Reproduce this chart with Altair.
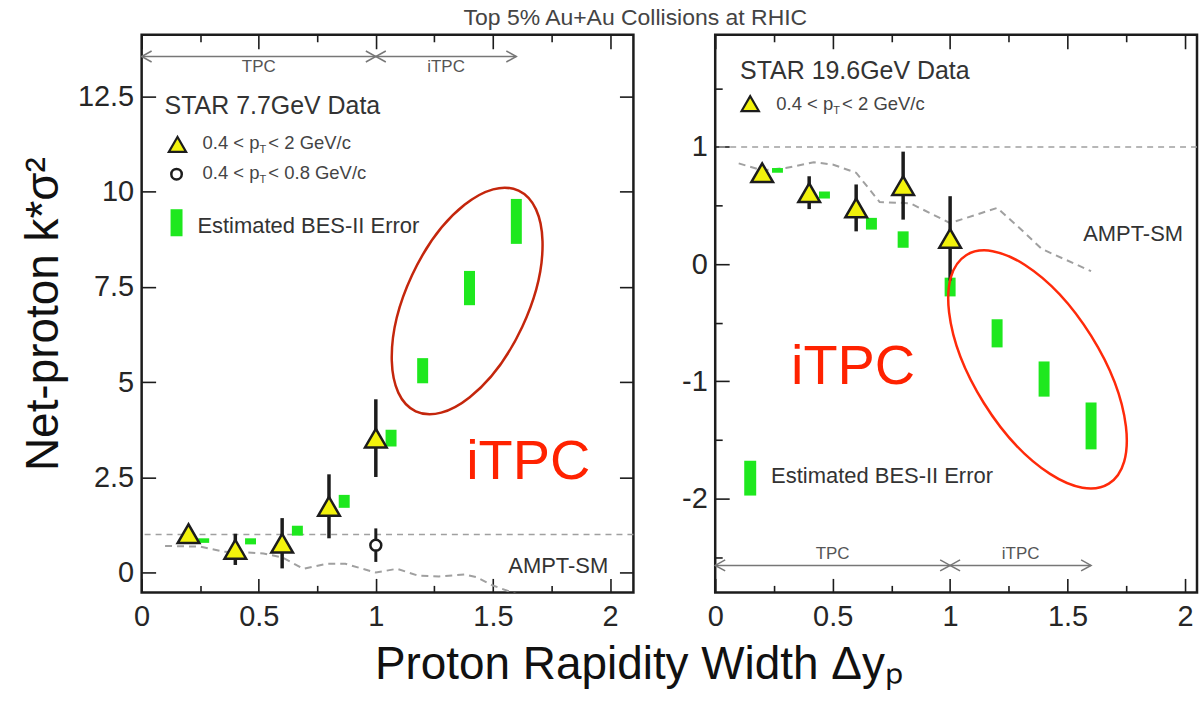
import altair as alt
import pandas as pd

FONT = "Liberation Sans"
INK = "#1c1c1c"
LABEL = "#262626"
DASH = "#a0a0a0"
GREEN = "#1ee81e"
YELLOW = "#f2f20c"
RED = "#ff2a0a"
DARKRED = "#c4260c"
NOTE = "#555555"

# ---------------- shared x ticks ----------------
x_major = [0, 0.5, 1, 1.5, 2]
x_minor = [0.25, 0.75, 1.25, 1.75]

# ---------------- 7.7 GeV panel ----------------
l_y_major = [0, 2.5, 5, 7.5, 10, 12.5]
l_tri_x = [0.2, 0.4, 0.6, 0.8, 1.0]
l_tri_y = [1.02, 0.61, 0.77, 1.74, 3.53]
l_tri_err = [0.12, 0.41, 0.66, 0.84, 1.02]
l_circ_x = [1.0]
l_circ_y = [0.72]
l_circ_err = [0.44]
l_bes_x = [0.265, 0.465, 0.665, 0.865, 1.065, 1.2, 1.4, 1.6]
l_bes_y = [0.84, 0.82, 1.1, 1.87, 3.53, 5.3, 7.47, 9.22]
l_bes_half = [0.06, 0.08, 0.13, 0.17, 0.22, 0.33, 0.45, 0.59]
l_ampt_x = [0.1, 0.25, 0.35, 0.45, 0.52, 0.6, 0.69, 0.79, 0.87, 1.0, 1.09, 1.18, 1.27, 1.38, 1.43, 1.5, 1.6]
l_ampt_y = [0.7, 0.68, 0.55, 0.53, 0.5, 0.4, 0.1, 0.23, 0.23, 0.0, 0.1, -0.08, -0.1, -0.05, -0.12, -0.34, -0.56]

# ---------------- 19.6 GeV panel ----------------
r_y_major = [-2, -1, 0, 1]
r_y_minor = [-2.5, -1.5, -0.5, 0.5, 1.5]
r_tri_x = [0.2, 0.4, 0.6, 0.8, 1.0]
r_tri_y = [0.78, 0.61, 0.48, 0.67, 0.22]
r_tri_err = [0.05, 0.14, 0.2, 0.29, 0.36]
r_bes_x = [0.265, 0.465, 0.665, 0.8, 1.0, 1.2, 1.4, 1.6]
r_bes_y = [0.8, 0.59, 0.345, 0.21, -0.195, -0.59, -0.98, -1.38]
r_bes_half = [0.02, 0.03, 0.05, 0.07, 0.08, 0.12, 0.15, 0.2]
r_ampt_x = [0.1, 0.2, 0.3, 0.42, 0.5, 0.6, 0.7, 0.83, 1.0, 1.2, 1.3, 1.39, 1.6]
r_ampt_y = [0.86, 0.8, 0.82, 0.87, 0.85, 0.78, 0.53, 0.52, 0.35, 0.48, 0.3, 0.13, -0.06]

# ---------------- annotation placements (data coordinates) ----------------
LEFT = dict(
    xdom=[0, 2.1], ydom=[-0.52, 14.12], width=493,
    y_major=l_y_major, y_minor=[],
    tri=(l_tri_x, l_tri_y, l_tri_err), circ=(l_circ_x, l_circ_y, l_circ_err),
    bes=(l_bes_x, l_bes_y, l_bes_half), ampt=(l_ampt_x, l_ampt_y),
    arrow_y=13.55, arrow_text_top=True,
    star=("STAR 7.7GeV Data", 0.098, 12.05),
    pt_rows=[(0.153, 11.24, 0.26, 11.11, "2", "tri"), (0.149, 10.46, 0.26, 10.33, "0.8", "circ")],
    leg_bar=(0.149, 8.83, 9.54), leg_bar_text=(0.238, 8.91),
    ampt_label=(1.779, 0.0),
    ellipse=(1.39, 7.13, 59536, 295, "M1,0A1,0.5,0,1,1,-1,0A1,0.5,0,1,1,1,0Z", DARKRED),
    itpc=(1.651, 2.46),
    right_axis=True, titles=True,
)
RIGHT = dict(
    xdom=[0, 2.051], ydom=[-2.8, 1.957], width=483,
    y_major=r_y_major, y_minor=r_y_minor,
    tri=(r_tri_x, r_tri_y, r_tri_err), circ=None,
    bes=(r_bes_x, r_bes_y, r_bes_half), ampt=(r_ampt_x, r_ampt_y),
    arrow_y=-2.57, arrow_text_top=False,
    star=("STAR 19.6GeV Data", 0.106, 1.583),
    pt_rows=[(0.149, 1.37, 0.26, 1.319, "2", "tri")],
    leg_bar=(0.149, -1.974, -1.677), leg_bar_text=(0.238, -1.864),
    ampt_label=(1.779, 0.196),
    ellipse=(1.372, -0.898, 72900, 58, "M1,0A1,0.47,0,1,1,-1,0A1,0.47,0,1,1,1,0Z", RED),
    itpc=(0.587, -1.02),
    right_axis=False, titles=False,
)

HEIGHT = 559


def axis(orient, values, size, labels=False, title=None, **kw):
    opts = dict(orient=orient, values=values, tickSize=size, offset=-size, domain=False,
                grid=False, labels=labels, tickColor=INK, tickWidth=1.6, title=title)
    if labels:
        opts.update(labelFont=FONT, labelFontSize=29, labelColor=LABEL,
                    labelExpr="'' + datum.value", labelFlush=False, labelOverlap=False)
    opts.update(kw)
    return alt.Axis(**opts)


def panel(P):
    xs = alt.Scale(domain=P["xdom"], nice=False, zero=False)
    ys = alt.Scale(domain=P["ydom"], nice=False, zero=False)

    def X(f, ax=None):
        return alt.X(f, type="quantitative", scale=xs, axis=ax)

    def Y(f, ax=None):
        return alt.Y(f, type="quantitative", scale=ys, axis=ax)

    tx, ty, te = P["tri"]
    tri = pd.DataFrame({"x": tx, "y": ty, "lo": [a - b for a, b in zip(ty, te)], "hi": [a + b for a, b in zip(ty, te)]})
    layers = []

    # axis carriers (invisible points)
    xt = "Proton Rapidity Width Δyₚ" if P["titles"] else None
    yt = "Net-proton k*σ²" if P["titles"] else None
    xmaj_kw = dict(labelPadding=10)
    ymaj_kw = dict(labelPadding=8)
    if P["titles"]:
        xmaj_kw.update(titleFont=FONT, titleFontSize=46, titleFontWeight="normal", titleColor="#111",
                       titleX=498, titlePadding=11)
        ymaj_kw.update(titleFont=FONT, titleFontSize=46, titleFontWeight="normal", titleColor="#111",
                       titlePadding=9.5)
    carriers = [
        (axis("bottom", x_major, 14, True, xt, **xmaj_kw), axis("left", P["y_major"], 14, True, yt, **ymaj_kw)),
        (axis("bottom", x_minor, 7), axis("left", P["y_minor"], 7) if P["y_minor"] else None),
        (axis("top", x_major, 14), axis("right", P["y_major"], 14) if P["right_axis"] else None),
        (axis("top", x_minor, 7), None),
    ]
    for xa, ya in carriers:
        layers.append(alt.Chart(tri).mark_point(opacity=0).encode(x=X("x", xa), y=Y("y", ya)))

    # reference line at 1
    layers.append(alt.Chart(pd.DataFrame({"y": [1.0]})).mark_rule(
        color=DASH, strokeWidth=1.6, strokeDash=[6, 5]).encode(y=Y("y")))

    # AMPT-SM dashed curve
    ax_, ay_ = P["ampt"]
    layers.append(alt.Chart(pd.DataFrame({"x": ax_, "y": ay_})).mark_line(
        color=DASH, strokeWidth=2, strokeDash=[7, 5], clip=True).encode(x=X("x"), y=Y("y")))

    # TPC / iTPC arrow
    ay = P["arrow_y"]
    layers.append(alt.Chart(pd.DataFrame({"x": [0.0], "x2": [1.6], "y": [ay]})).mark_rule(
        color="#777", strokeWidth=1.5).encode(x=X("x"), x2="x2", y=Y("y")))
    layers.append(alt.Chart(pd.DataFrame({"x": [0.0, 1.0], "y": [ay, ay]})).mark_point(
        shape="M1,-0.55L0,0L1,0.55", size=400, filled=False, stroke="#777", strokeWidth=1.5, opacity=1
    ).encode(x=X("x"), y=Y("y")))
    layers.append(alt.Chart(pd.DataFrame({"x": [1.0, 1.6], "y": [ay, ay]})).mark_point(
        shape="M-1,-0.55L0,0L-1,0.55", size=400, filled=False, stroke="#777", strokeWidth=1.5, opacity=1
    ).encode(x=X("x"), y=Y("y")))
    top = P["arrow_text_top"]
    layers.append(alt.Chart(pd.DataFrame({"x": [0.5, 1.3], "y": [ay, ay], "t": ["TPC", "iTPC"]})).mark_text(
        font=FONT, fontSize=17, color=NOTE, baseline="top" if top else "bottom", dy=3 if top else -2
    ).encode(x=X("x"), y=Y("y"), text="t:N"))

    # estimated BES-II error bars (green)
    bx, by, bh = P["bes"]
    bes = pd.DataFrame({"x": bx, "lo": [a - b for a, b in zip(by, bh)], "hi": [a + b for a, b in zip(by, bh)]})
    layers.append(alt.Chart(bes).mark_rule(color=GREEN, strokeWidth=11, strokeCap="butt").encode(
        x=X("x"), y=Y("lo"), y2="hi"))

    # data error bars and markers
    layers.append(alt.Chart(tri).mark_rule(color=INK, strokeWidth=3.5).encode(x=X("x"), y=Y("lo"), y2="hi"))
    layers.append(alt.Chart(tri).mark_point(shape="triangle-up", size=470, filled=True, fill=YELLOW,
                                             stroke=INK, strokeWidth=2.5, opacity=1).encode(x=X("x"), y=Y("y")))
    if P["circ"]:
        cx, cy, ce = P["circ"]
        circ = pd.DataFrame({"x": cx, "y": cy, "lo": [a - b for a, b in zip(cy, ce)], "hi": [a + b for a, b in zip(cy, ce)]})
        layers.append(alt.Chart(circ).mark_rule(color=INK, strokeWidth=3).encode(x=X("x"), y=Y("lo"), y2="hi"))
        layers.append(alt.Chart(circ).mark_point(shape="circle", size=120, filled=True, fill="white",
                                                  stroke=INK, strokeWidth=2.5, opacity=1).encode(x=X("x"), y=Y("y")))

    # legend block
    st, sx, sy = P["star"]
    layers.append(alt.Chart(pd.DataFrame({"x": [sx], "y": [sy], "t": [st]})).mark_text(
        font=FONT, fontSize=25, color="#333", align="left", baseline="alphabetic"
    ).encode(x=X("x"), y=Y("y"), text="t:N"))
    for mx, my, tx0, ty0, upper, kind in P["pt_rows"]:
        mdf = pd.DataFrame({"x": [mx], "y": [my]})
        if kind == "tri":
            layers.append(alt.Chart(mdf).mark_point(shape="triangle-up", size=300, filled=True, fill=YELLOW,
                                                     stroke=INK, strokeWidth=2.2, opacity=1).encode(x=X("x"), y=Y("y")))
        else:
            layers.append(alt.Chart(mdf).mark_point(shape="circle", size=110, filled=True, fill="white",
                                                     stroke=INK, strokeWidth=2.5, opacity=1).encode(x=X("x"), y=Y("y")))
        tdf = pd.DataFrame({"x": [tx0], "y": [ty0], "a": ["0.4 < p"], "b": ["T"], "c": ["< " + upper + " GeV/c"]})
        layers.append(alt.Chart(tdf).mark_text(font=FONT, fontSize=18.5, color="#444", align="left",
                                               baseline="alphabetic").encode(x=X("x"), y=Y("y"), text="a:N"))
        layers.append(alt.Chart(tdf).mark_text(font=FONT, fontSize=11, color="#444", align="left",
                                               baseline="alphabetic", dx=57, dy=4).encode(x=X("x"), y=Y("y"), text="b:N"))
        layers.append(alt.Chart(tdf).mark_text(font=FONT, fontSize=18.5, color="#444", align="left",
                                               baseline="alphabetic", dx=66).encode(x=X("x"), y=Y("y"), text="c:N"))
    lbx, lb0, lb1 = P["leg_bar"]
    layers.append(alt.Chart(pd.DataFrame({"x": [lbx], "lo": [lb0], "hi": [lb1]})).mark_rule(
        color=GREEN, strokeWidth=12, strokeCap="butt").encode(x=X("x"), y=Y("lo"), y2="hi"))
    ltx, lty = P["leg_bar_text"]
    layers.append(alt.Chart(pd.DataFrame({"x": [ltx], "y": [lty], "t": ["Estimated BES-II Error"]})).mark_text(
        font=FONT, fontSize=22, color="#333", align="left", baseline="alphabetic"
    ).encode(x=X("x"), y=Y("y"), text="t:N"))

    # AMPT-SM label
    amx, amy = P["ampt_label"]
    layers.append(alt.Chart(pd.DataFrame({"x": [amx], "y": [amy], "t": ["AMPT-SM"]})).mark_text(
        font=FONT, fontSize=22, color="#333", align="center", baseline="alphabetic"
    ).encode(x=X("x"), y=Y("y"), text="t:N"))

    # red ellipse and iTPC annotation
    ex, ey, esize, eang, epath, ecol = P["ellipse"]
    layers.append(alt.Chart(pd.DataFrame({"x": [ex], "y": [ey]})).mark_point(
        shape=epath, size=esize, angle=eang, filled=False, stroke=ecol, strokeWidth=2.5, opacity=1
    ).encode(x=X("x"), y=Y("y")))
    ix, iy = P["itpc"]
    layers.append(alt.Chart(pd.DataFrame({"x": [ix], "y": [iy], "t": ["iTPC"]})).mark_text(
        font=FONT, fontSize=56, color="#ff2200", align="center", baseline="alphabetic"
    ).encode(x=X("x"), y=Y("y"), text="t:N"))

    return alt.layer(*layers).resolve_axis(x="independent", y="independent").properties(
        width=P["width"], height=HEIGHT)


left = panel(LEFT)
right = panel(RIGHT)

chart = alt.hconcat(left, right, spacing=82, bounds="flush").properties(
    title=alt.TitleParams(text="Top 5% Au+Au Collisions at RHIC", font=FONT, fontSize=23,
                          fontWeight="normal", color="#444", anchor="middle", offset=3, dx=26),
    padding={"left": 19, "top": 5, "right": 0, "bottom": 0},
    background="white",
).configure_view(stroke=INK, strokeWidth=2.5)

chart.save("out.html", embed_options={"renderer": "svg", "actions": False})
